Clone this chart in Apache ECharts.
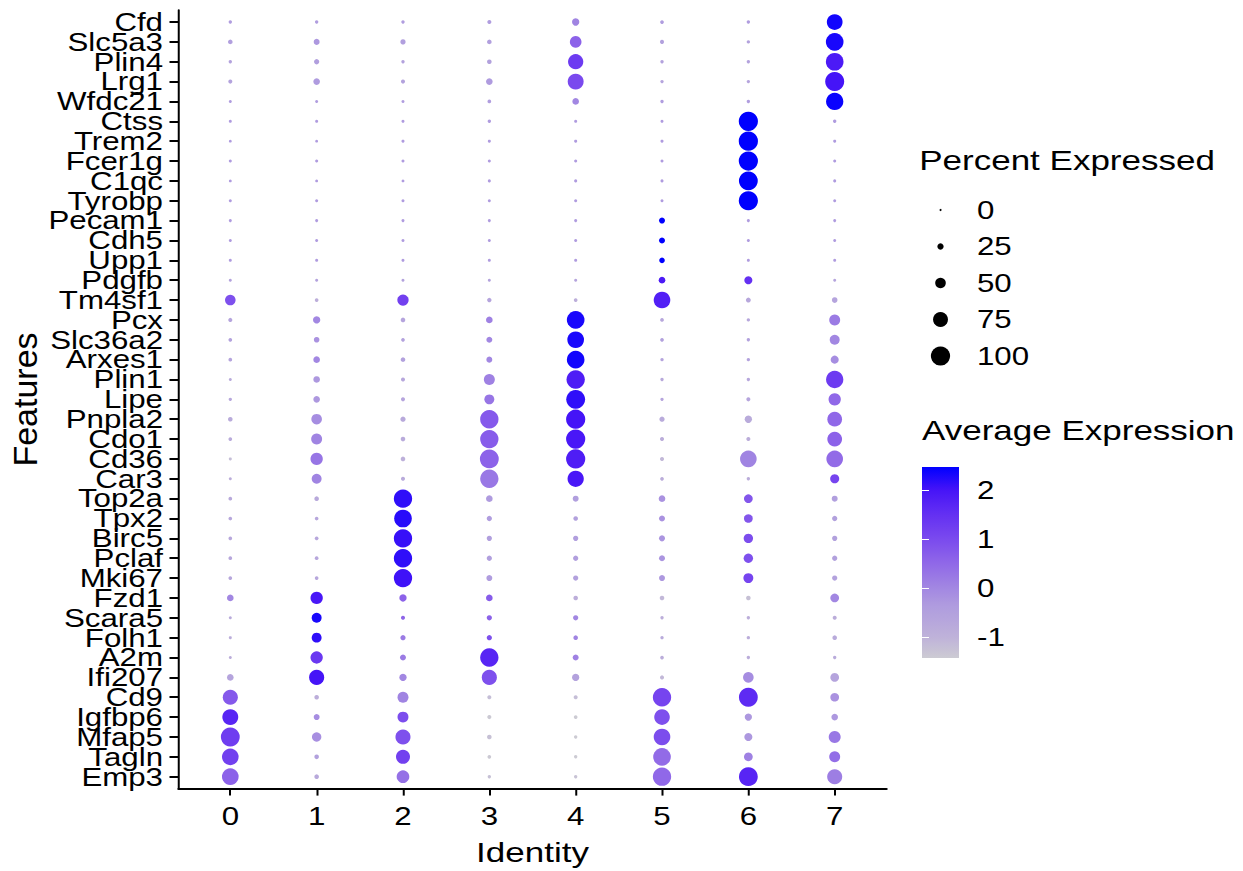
<!DOCTYPE html>
<html>
<head>
<meta charset="utf-8">
<script src="https://cdn.jsdelivr.net/npm/echarts@6/dist/echarts.min.js"></script>
<style>
  html, body { margin: 0; padding: 0; background: #fff; overflow: hidden; }
  #wrap { width: 1243px; height: 871px; overflow: hidden; }
  /* the text face is drawn wide: the chart is laid out narrow and stretched horizontally */
  #chart { width: 994.4px; height: 871px; transform: scaleX(1.25); transform-origin: 0 0; }
</style>
</head>
<body>
<div id="wrap"><div id="chart"></div></div>
<script>
// Genes, listed top to bottom
const features = ['Cfd','Slc5a3','Plin4','Lrg1','Wfdc21','Ctss','Trem2','Fcer1g','C1qc','Tyrobp',
  'Pecam1','Cdh5','Upp1','Pdgfb','Tm4sf1','Pcx','Slc36a2','Arxes1','Plin1','Lipe',
  'Pnpla2','Cdo1','Cd36','Car3','Top2a','Tpx2','Birc5','Pclaf','Mki67','Fzd1',
  'Scara5','Folh1','A2m','Ifi207','Cd9','Igfbp6','Mfap5','Tagln','Emp3'];

// Clusters
const identities = ['0','1','2','3','4','5','6','7'];

// Percent of cells expressing each gene, per cluster (rows follow features)
const pctExpressed = [
  [8, 8, 8, 12, 31, 10, 8, 80],
  [15, 23, 19, 15, 56, 12, 8, 91],
  [8, 19, 8, 15, 77, 8, 8, 91],
  [12, 27, 12, 27, 81, 8, 8, 99],
  [6, 6, 6, 10, 27, 8, 8, 89],
  [6, 6, 6, 8, 6, 6, 100, 8],
  [5, 5, 6, 6, 6, 6, 100, 6],
  [6, 6, 6, 6, 6, 6, 100, 6],
  [5, 5, 5, 6, 6, 6, 98, 6],
  [6, 6, 6, 6, 6, 6, 100, 6],
  [6, 6, 6, 6, 6, 23, 6, 6],
  [6, 6, 6, 6, 6, 23, 6, 6],
  [6, 6, 6, 6, 6, 21, 6, 6],
  [6, 6, 6, 6, 6, 27, 35, 6],
  [50, 10, 54, 14, 10, 85, 17, 21],
  [12, 31, 15, 27, 91, 10, 8, 52],
  [10, 21, 10, 23, 85, 10, 8, 46],
  [10, 27, 15, 23, 91, 8, 8, 35],
  [6, 27, 12, 52, 95, 8, 8, 89],
  [8, 27, 12, 46, 98, 8, 12, 60],
  [15, 50, 19, 95, 100, 19, 31, 74],
  [10, 52, 15, 95, 100, 12, 12, 74],
  [6, 60, 15, 98, 100, 12, 85, 85],
  [6, 46, 12, 95, 83, 10, 8, 41],
  [10, 15, 95, 27, 23, 27, 39, 23],
  [10, 10, 91, 19, 15, 23, 39, 19],
  [10, 10, 95, 19, 19, 23, 43, 19],
  [10, 10, 95, 19, 19, 23, 43, 19],
  [10, 10, 95, 23, 19, 23, 46, 19],
  [27, 60, 31, 27, 15, 15, 15, 39],
  [6, 46, 12, 19, 19, 8, 8, 12],
  [6, 46, 19, 19, 15, 8, 8, 15],
  [6, 60, 23, 95, 23, 10, 8, 8],
  [27, 76, 31, 76, 31, 12, 50, 39],
  [76, 15, 52, 12, 12, 95, 98, 39],
  [81, 23, 52, 12, 10, 79, 31, 27],
  [98, 43, 76, 15, 8, 85, 35, 58],
  [85, 15, 70, 10, 8, 91, 39, 52],
  [85, 15, 62, 8, 8, 95, 98, 76]
];

// Scaled average expression, per cluster (rows follow features)
const avgExpression = [
  [-0.4, -0.4, -0.4, -0.4, 0.05, -0.4, -0.4, 2.35],
  [-0.45, -0.3, -0.45, -0.45, 0.6, -0.5, -0.55, 2.3],
  [-0.55, -0.45, -0.55, -0.5, 1.3, -0.55, -0.55, 1.9],
  [-0.55, -0.35, -0.55, -0.35, 1.0, -0.6, -0.6, 2.0],
  [-0.4, -0.4, -0.4, -0.4, 0.0, -0.4, -0.4, 2.4],
  [-0.354, -0.354, -0.354, -0.354, -0.354, -0.354, 2.47, -0.354],
  [-0.354, -0.354, -0.354, -0.354, -0.354, -0.354, 2.47, -0.354],
  [-0.354, -0.354, -0.354, -0.354, -0.354, -0.354, 2.47, -0.354],
  [-0.354, -0.354, -0.354, -0.354, -0.354, -0.354, 2.47, -0.354],
  [-0.354, -0.354, -0.354, -0.354, -0.354, -0.354, 2.47, -0.354],
  [-0.354, -0.354, -0.354, -0.354, -0.354, 2.47, -0.354, -0.354],
  [-0.354, -0.354, -0.354, -0.354, -0.354, 2.47, -0.354, -0.354],
  [-0.354, -0.354, -0.354, -0.354, -0.354, 2.47, -0.354, -0.354],
  [-0.55, -0.55, -0.55, -0.55, -0.6, 1.9, 1.5, -0.6],
  [0.9, -0.9, 1.2, -0.6, -0.9, 1.8, -0.7, -0.6],
  [-0.6, 0.0, -0.6, 0.1, 2.3, -0.7, -0.7, 0.2],
  [-0.55, -0.2, -0.55, 0.0, 2.3, -0.5, -0.5, 0.0],
  [-0.6, 0.0, -0.5, 0.0, 2.35, -0.6, -0.55, -0.1],
  [-0.8, -0.3, -0.7, 0.1, 1.85, -0.75, -0.7, 1.3],
  [-0.7, -0.3, -0.65, 0.3, 2.15, -0.65, -0.65, 0.5],
  [-0.8, -0.1, -0.75, 0.75, 2.0, -0.8, -0.8, 0.5],
  [-0.8, 0.05, -0.8, 0.7, 1.95, -0.85, -0.85, 0.6],
  [-1.2, 0.3, -0.95, 0.6, 1.85, -1.1, 0.05, 0.45],
  [-0.85, 0.05, -0.8, 0.25, 1.95, -0.85, -0.85, 1.1],
  [-0.75, -0.75, 2.15, -0.35, -0.45, -0.2, 0.8, -0.45],
  [-0.7, -0.7, 2.2, -0.4, -0.5, -0.2, 0.8, -0.5],
  [-0.7, -0.7, 2.1, -0.45, -0.45, -0.25, 0.95, -0.5],
  [-0.7, -0.7, 2.15, -0.45, -0.45, -0.25, 0.9, -0.5],
  [-0.7, -0.7, 2.05, -0.4, -0.5, -0.3, 1.1, -0.55],
  [0.0, 1.95, 0.6, 0.7, -0.9, -1.1, -1.25, 0.0],
  [-0.8, 2.3, 0.55, 0.6, 0.0, -0.9, -0.9, -0.85],
  [-0.85, 2.15, 0.2, 0.9, 0.05, -0.8, -0.85, -0.8],
  [-0.85, 1.35, 0.2, 1.7, 0.1, -0.85, -0.85, -0.8],
  [-0.6, 2.0, 0.0, 0.9, -0.55, -1.1, -0.1, -0.6],
  [0.75, -0.9, 0.05, -1.2, -1.2, 1.1, 1.6, -0.2],
  [1.7, -0.1, 0.95, -1.4, -1.43, 0.9, -0.3, -0.3],
  [1.25, -0.15, 0.9, -1.25, -1.43, 0.95, -0.3, 0.25],
  [1.2, -0.5, 1.2, -1.4, -1.43, 0.45, 0.1, 0.4],
  [0.6, -0.75, 0.35, -1.25, -1.3, 0.5, 1.7, 0.15]
];

// Legend breaks
const sizeBreaks = [0, 25, 50, 75, 100];
const colorTicks = [-1, 0, 1, 2];

const SX = 1.25;               // horizontal stretch of the chart element
const FONT = '"Liberation Sans", Arial, Helvetica, sans-serif';

// grey-to-blue colour ramp, anchored at expression levels
const rampAnchorValues = [-1.45, -1.0, -0.35, 0.0, 0.5, 1.0, 1.5, 2.0, 2.47];
const rampAnchorColors = ['#CDCCD3', '#BEB2D9', '#AF9BDF', '#A287E2', '#9068E8',
                          '#7A4AEE', '#6430F2', '#4614F7', '#0000FF'];

// dot diameter (px) from percent expressed; width is pre-shrunk so dots stay round after the stretch
function dotDiameter(p) { return 2 + 0.172 * p; }
function dotSize(p) { const d = dotDiameter(p); return [d / SX, d]; }

function hexToRgb(h) { return [1, 3, 5].map(i => parseInt(h.substr(i, 2), 16)); }
function rgbToHex(c) { return '#' + c.map(x => Math.round(x).toString(16).padStart(2, '0')).join(''); }
function colorAt(v) {
  const xs = rampAnchorValues, cs = rampAnchorColors.map(hexToRgb);
  if (v <= xs[0]) return rgbToHex(cs[0]);
  for (let k = 1; k < xs.length; k++) {
    if (v <= xs[k]) {
      const t = (v - xs[k - 1]) / (xs[k] - xs[k - 1]);
      return rgbToHex(cs[k - 1].map((c, i) => c + (cs[k][i] - c) * t));
    }
  }
  return rgbToHex(cs[cs.length - 1]);
}

// colour scale limits follow the data range
const allAvg = avgExpression.flat();
const colMin = Math.min(...allAvg);
const colMax = Math.max(...allAvg);

const RAMP_STEPS = 48;
const rampColors = [];
for (let k = 0; k <= RAMP_STEPS; k++) rampColors.push(colorAt(colMin + (colMax - colMin) * k / RAMP_STEPS));
const gradientStops = rampColors.map((c, k) => ({ offset: k / RAMP_STEPS, color: c }));

// points: [identity index, feature index, percent, average expression]
const dots = [];
features.forEach((f, i) => {
  identities.forEach((id, j) => {
    dots.push([j, i, pctExpressed[i][j], avgExpression[i][j]]);
  });
});

// main panel geometry (chart units); rows sit on a value scale padded by 0.6 of a step
const PANEL = { left: 142.8, top: 10.1, width: 566.4, height: 778.5 };
const PAD = 0.6;
const rowStep = PANEL.height / (features.length - 1 + 2 * PAD);
// a label-only band grid whose category centres coincide with the rows
const LABEL_BAND = {
  left: PANEL.left, width: PANEL.width,
  top: PANEL.top + (PAD - 0.5) * rowStep,
  height: features.length * rowStep
};

const chart = echarts.init(document.getElementById('chart'), null, { renderer: 'svg' });

const blackText = { color: '#000', fontFamily: FONT };

chart.setOption({
  animation: false,
  backgroundColor: '#fff',
  textStyle: { fontFamily: FONT },
  grid: [
    { ...PANEL, outerBoundsMode: 'none' },
    { left: 747.2, top: 191.75, width: 10.4, height: 182.5, outerBoundsMode: 'none' },
    { left: 737.6, top: 467, width: 29.6, height: 191, outerBoundsMode: 'none' },
    { ...LABEL_BAND, outerBoundsMode: 'none' }
  ],
  xAxis: [
    {
      gridIndex: 0, type: 'value', min: -PAD, max: identities.length - 1 + PAD,
      axisLine: { show: true, onZero: false, lineStyle: { color: '#000', width: 2 } },
      axisTick: { show: true, length: 7, customValues: identities.map((d, j) => j),
                  lineStyle: { color: '#000', width: 1.6 } },
      axisLabel: { customValues: identities.map((d, j) => j), margin: 15, fontSize: 25,
                   showMinLabel: true, showMaxLabel: true,
                   ...blackText, formatter: v => identities[Math.round(v)] },
      splitLine: { show: false },
      name: 'Identity', nameLocation: 'middle', nameGap: 50,
      nameTextStyle: { fontSize: 28, ...blackText }
    },
    { gridIndex: 1, type: 'value', min: -1, max: 1, show: false },
    { gridIndex: 2, type: 'value', min: 0, max: 1, show: false },
    { gridIndex: 3, type: 'value', min: 0, max: 1, show: false }
  ],
  yAxis: [
    {
      gridIndex: 0, type: 'value', inverse: true, min: -PAD, max: features.length - 1 + PAD,
      axisLine: { show: true, onZero: false, lineStyle: { color: '#000', width: 1.6 } },
      axisTick: { show: true, length: 7.2, customValues: features.map((f, i) => i),
                  lineStyle: { color: '#000', width: 2 } },
      axisLabel: { show: false },
      splitLine: { show: false }
    },
    {
      gridIndex: 1, type: 'category', inverse: true, position: 'right',
      data: sizeBreaks.map(String),
      axisLine: { show: false }, axisTick: { show: false },
      axisLabel: { margin: 24, fontSize: 25, ...blackText },
      splitLine: { show: false }
    },
    {
      gridIndex: 2, type: 'value', min: colMin, max: colMax, position: 'right', z: 5,
      axisLine: { show: false },
      axisTick: { show: true, inside: true, length: 5.6, customValues: colorTicks,
                  lineStyle: { color: '#fff', width: 1 } },
      axisLabel: { customValues: colorTicks, margin: 14.4, fontSize: 25,
                   showMinLabel: true, showMaxLabel: true, ...blackText },
      splitLine: { show: false }
    },
    {
      gridIndex: 2, type: 'value', min: colMin, max: colMax, position: 'left', z: 5,
      axisLine: { show: false },
      axisTick: { show: true, inside: true, length: 5.6, customValues: colorTicks,
                  lineStyle: { color: '#fff', width: 1 } },
      axisLabel: { show: false },
      splitLine: { show: false }
    },
    {
      // gene names: every category label is kept, even where neighbours touch
      gridIndex: 3, type: 'category', inverse: true, data: features,
      axisLine: { show: false }, axisTick: { show: false },
      axisLabel: { interval: 0, margin: 12.4, fontSize: 25, lineHeight: 18, ...blackText },
      splitLine: { show: false }
    }
  ],
  visualMap: {
    type: 'continuous', show: false, seriesIndex: 0, dimension: 3,
    min: colMin, max: colMax, inRange: { color: rampColors }
  },
  series: [
    {
      type: 'scatter', xAxisIndex: 0, yAxisIndex: 0,
      symbol: 'circle', symbolSize: val => dotSize(val[2]),
      itemStyle: { opacity: 1 }, silent: true,
      data: dots
    },
    {
      type: 'scatter', xAxisIndex: 1, yAxisIndex: 1,
      symbol: 'circle', symbolSize: val => dotSize(val[2]),
      itemStyle: { color: '#000', opacity: 1 }, silent: true,
      data: sizeBreaks.map((b, k) => [0, k, b])
    },
    {
      type: 'custom', xAxisIndex: 2, yAxisIndex: 2, silent: true,
      data: [[0, colMin, 1, colMax]],
      encode: { x: [0, 2], y: [1, 3] },
      renderItem: (params, api) => {
        const a = api.coord([api.value(0), api.value(1)]);
        const b = api.coord([api.value(2), api.value(3)]);
        return {
          type: 'rect',
          shape: { x: a[0], y: b[1], width: b[0] - a[0], height: a[1] - b[1] },
          style: { fill: new echarts.graphic.LinearGradient(0, 1, 0, 0, gradientStops) }
        };
      }
    }
  ],
  graphic: [
    // y axis title: the glyph height is pre-shrunk so the horizontal stretch leaves it upright-sized
    { type: 'text', x: 19.6, y: 399.5, rotation: Math.PI / 2, scaleY: 1 / SX,
      style: { text: 'Features', fill: '#000', font: '34px ' + FONT, align: 'center', verticalAlign: 'middle' } },
    { type: 'text', left: 735.4, top: 146,
      style: { text: 'Percent Expressed', fill: '#000', font: '28px ' + FONT } },
    { type: 'text', left: 737.6, top: 416.5,
      style: { text: 'Average Expression', fill: '#000', font: '28px ' + FONT } }
  ]
});
</script>
</body>
</html>
